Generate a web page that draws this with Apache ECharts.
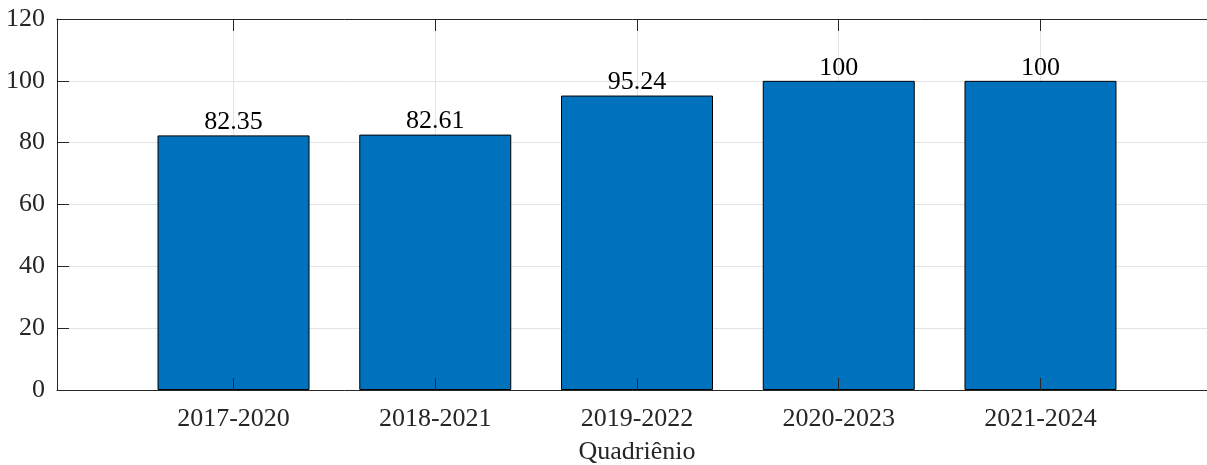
<!DOCTYPE html>
<html>
<head>
<meta charset="utf-8">
<script src="https://cdn.jsdelivr.net/npm/echarts@6/dist/echarts.min.js"></script>
<style>
html, body { margin: 0; padding: 0; background: #fff; overflow: hidden; }
#chart { width: 1207px; height: 465px; }
</style>
</head>
<body>
<div id="chart"></div>
<script>
// dados do gráfico
var categories = ['2017-2020', '2018-2021', '2019-2022', '2020-2023', '2021-2024'];
var values = [82.35, 82.61, 95.24, 100, 100];
var positions = [1, 2, 3, 4, 5];

var fontFamily = '"Liberation Serif", "DejaVu Serif", serif';
var axisColor = '#262626';
var gridColor = '#e3e3e3';

var chart = echarts.init(document.getElementById('chart'));

var barData = [];
for (var i = 0; i < values.length; i++) {
	barData.push([positions[i], values[i]]);
}

var option = {
	animation: false,
	backgroundColor: '#fff',
	grid: {
		left: 57,
		top: 19,
		right: -10,
		bottom: 75,
		containLabel: false,
		outerBoundsMode: 'none'
	},
	xAxis: [
		{
			// eixo inferior: rótulos e marcas
			type: 'value',
			position: 'bottom',
			min: 0.125,
			max: 5.875,
			z: 5,
			name: 'Quadriênio',
			nameLocation: 'middle',
			nameGap: 49,
			nameTextStyle: { fontFamily: fontFamily, fontSize: 26, color: axisColor },
			axisLine: { show: true, onZero: false, lineStyle: { color: axisColor, width: 1 } },
			axisTick: { show: true, inside: true, length: 12, customValues: positions, lineStyle: { color: axisColor } },
			axisLabel: {
				show: true,
				customValues: positions,
				margin: 16,
				fontFamily: fontFamily,
				fontSize: 26,
				color: axisColor,
				formatter: function (v) { return categories[Math.round(v) - 1]; }
			},
			splitLine: { show: false }
		},
		{
			// eixo superior: linhas de grade verticais
			type: 'value',
			position: 'top',
			min: 0.125,
			max: 5.875,
			axisLine: { show: true, onZero: false, lineStyle: { color: axisColor, width: 1 } },
			axisTick: { show: true, inside: true, length: 12, customValues: positions, lineStyle: { color: axisColor } },
			axisLabel: { show: false, customValues: positions },
			splitLine: { show: true, lineStyle: { color: gridColor, width: 1 } }
		}
	],
	yAxis: [
		{
			type: 'value',
			position: 'left',
			min: 0,
			max: 120,
			interval: 20,
			z: 5,
			axisLine: { show: true, onZero: false, lineStyle: { color: axisColor, width: 1 } },
			axisTick: { show: true, inside: true, length: 12, lineStyle: { color: axisColor } },
			axisLabel: { margin: 12, fontFamily: fontFamily, fontSize: 26, color: axisColor },
			splitLine: { show: false }
		},
		{
			// eixo direito fica fora da imagem: só as linhas de grade
			type: 'value',
			position: 'right',
			min: 0,
			max: 120,
			interval: 20,
			axisLine: { show: false },
			axisTick: { show: false },
			axisLabel: { show: false },
			splitLine: { show: true, lineStyle: { color: gridColor, width: 1 } }
		}
	],
	series: [
		{
			type: 'bar',
			xAxisIndex: 0,
			yAxisIndex: 0,
			barWidth: 152,
			data: barData,
			itemStyle: { color: '#0072BD', borderColor: '#000', borderWidth: 1 },
			label: {
				show: true,
				position: 'top',
				distance: 0,
				fontFamily: fontFamily,
				fontSize: 26,
				color: '#000',
				formatter: function (p) { return String(p.value[1]); }
			}
		}
	]
};

chart.setOption(option);
</script>
</body>
</html>
